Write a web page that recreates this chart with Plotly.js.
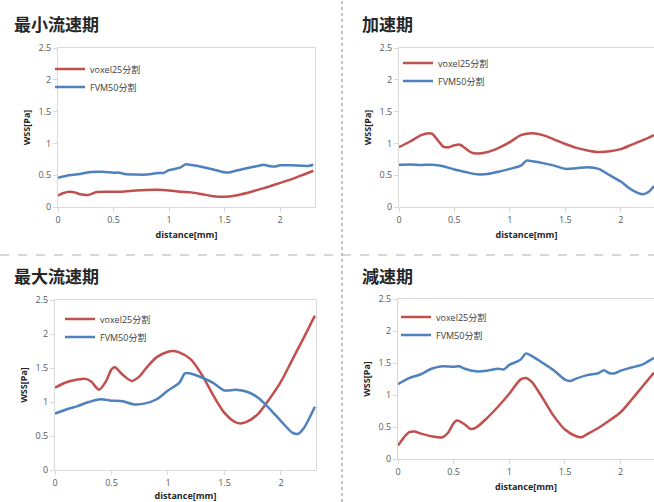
<!DOCTYPE html>
<html><head><meta charset="utf-8">
<script src="https://cdn.plot.ly/plotly-3.0.1.min.js"></script>
<style>html,body{margin:0;padding:0;background:#fff}#chart{width:654px;height:502px}</style>
</head><body><div id="chart"></div>
<script>
const panelTitles = ["最小流速期", "加速期", "最大流速期", "減速期"];
const seriesNames = ["voxel25分割", "FVM50分割"];
const xTickVals = [0, 0.5, 1, 1.5, 2];
const xTickText = ["0", "0.5", "1", "1.5", "2"];
const yTickVals = [0, 0.5, 1, 1.5, 2, 2.5];
const yTickText = ["0", "0.5", "1", "1.5", "2", "2.5"];

// Panel 1: 最小流速期
const p1VoxelX = [0,0.05,0.1,0.15,0.2,0.27,0.35,0.5,0.6,0.7,0.9,1.0,1.1,1.2,1.3,1.4,1.5,1.6,1.7,1.8,1.9,2.0,2.1,2.2,2.3];
const p1VoxelY = [0.18,0.22,0.24,0.23,0.2,0.19,0.235,0.24,0.245,0.26,0.27,0.26,0.24,0.23,0.2,0.17,0.16,0.18,0.22,0.27,0.32,0.38,0.435,0.5,0.57];
const p1FvmX = [0,0.1,0.2,0.3,0.4,0.5,0.55,0.6,0.7,0.8,0.9,0.95,1.0,1.1,1.15,1.2,1.3,1.4,1.5,1.55,1.6,1.7,1.8,1.85,1.9,1.95,2.0,2.1,2.2,2.25,2.3];
const p1FvmY = [0.46,0.5,0.52,0.55,0.555,0.54,0.54,0.52,0.51,0.51,0.535,0.535,0.58,0.62,0.67,0.66,0.63,0.59,0.545,0.545,0.57,0.61,0.645,0.665,0.645,0.635,0.655,0.655,0.65,0.645,0.665];

// Panel 2: 加速期
const p2VoxelX = [0,0.1,0.2,0.27,0.3,0.35,0.4,0.45,0.5,0.55,0.6,0.65,0.7,0.8,0.9,1.0,1.1,1.2,1.3,1.4,1.5,1.6,1.7,1.8,1.9,2.0,2.1,2.2,2.3];
const p2VoxelY = [0.94,1.03,1.13,1.16,1.15,1.05,0.95,0.94,0.97,0.98,0.92,0.86,0.84,0.865,0.93,1.02,1.13,1.16,1.13,1.06,0.99,0.93,0.89,0.865,0.875,0.91,0.98,1.05,1.13];
const p2FvmX = [0,0.1,0.2,0.3,0.4,0.5,0.6,0.7,0.8,0.9,1.0,1.1,1.15,1.2,1.3,1.4,1.5,1.6,1.7,1.8,1.9,2.0,2.1,2.2,2.25,2.3];
const p2FvmY = [0.665,0.67,0.66,0.665,0.64,0.59,0.55,0.515,0.52,0.555,0.6,0.65,0.73,0.72,0.69,0.65,0.6,0.61,0.625,0.6,0.5,0.4,0.27,0.2,0.235,0.33];

// Panel 3: 最大流速期
const p3VoxelX = [0,0.1,0.2,0.27,0.32,0.39,0.45,0.5,0.53,0.6,0.68,0.75,0.8,0.9,1.0,1.05,1.1,1.2,1.3,1.4,1.5,1.6,1.65,1.7,1.8,1.9,2.0,2.1,2.2,2.3];
const p3VoxelY = [1.21,1.29,1.33,1.34,1.3,1.18,1.3,1.48,1.51,1.4,1.31,1.38,1.485,1.66,1.74,1.75,1.73,1.63,1.4,1.1,0.84,0.70,0.686,0.71,0.83,1.05,1.3,1.62,1.94,2.27];
const p3FvmX = [0,0.1,0.2,0.3,0.4,0.5,0.6,0.7,0.8,0.9,1.0,1.1,1.15,1.2,1.3,1.4,1.5,1.6,1.7,1.8,1.9,2.0,2.1,2.15,2.2,2.3];
const p3FvmY = [0.83,0.89,0.94,1.0,1.04,1.02,1.01,0.965,0.98,1.04,1.17,1.28,1.42,1.42,1.36,1.28,1.17,1.18,1.15,1.06,0.9,0.72,0.55,0.53,0.61,0.93];

// Panel 4: 減速期
const p4VoxelX = [0,0.05,0.1,0.15,0.2,0.3,0.4,0.45,0.5,0.53,0.6,0.65,0.7,0.8,0.9,1.0,1.1,1.15,1.2,1.3,1.4,1.5,1.6,1.65,1.7,1.8,1.9,2.0,2.1,2.2,2.3];
const p4VoxelY = [0.21,0.33,0.42,0.43,0.4,0.355,0.34,0.41,0.56,0.6,0.54,0.47,0.49,0.64,0.82,1.02,1.24,1.265,1.21,0.95,0.67,0.46,0.355,0.34,0.39,0.485,0.6,0.73,0.93,1.14,1.35];
const p4FvmX = [0,0.1,0.2,0.3,0.4,0.5,0.55,0.6,0.7,0.8,0.9,0.95,1.0,1.1,1.15,1.2,1.3,1.4,1.5,1.55,1.6,1.7,1.8,1.85,1.9,1.95,2.0,2.1,2.2,2.3];
const p4FvmY = [1.17,1.265,1.32,1.41,1.45,1.44,1.45,1.41,1.37,1.38,1.41,1.4,1.47,1.55,1.65,1.61,1.5,1.385,1.24,1.22,1.255,1.31,1.34,1.385,1.34,1.34,1.38,1.43,1.48,1.58];

const RED = "#C0504D", BLUE = "#4F81BD";
const W = 654, H = 502;
const px = v => v / W, py = v => 1 - v / H;

// dom: [left, right, top, bottom] px; leg: [text x, item1 y, item2 y] px
const panels = [
  {vx: p1VoxelX, vy: p1VoxelY, fx: p1FvmX, fy: p1FvmY, dom: [58, 315, 48, 207], xr: 2.315, title: [12, 24], leg: [90, 69, 87]},
  {vx: p2VoxelX, vy: p2VoxelY, fx: p2FvmX, fy: p2FvmY, dom: [399, 654, 48, 207], xr: 2.3, title: [360, 24], leg: [438, 63, 81]},
  {vx: p3VoxelX, vy: p3VoxelY, fx: p3FvmX, fy: p3FvmY, dom: [55, 316, 300, 470], xr: 2.31, title: [12, 275], leg: [100, 319, 337]},
  {vx: p4VoxelX, vy: p4VoxelY, fx: p4FvmX, fy: p4FvmY, dom: [398, 654, 299, 459], xr: 2.3, title: [360, 275], leg: [436, 317, 335]}
];

const data = [];
const layout = {
  width: W, height: H, margin: {l: 0, r: 0, t: 0, b: 0},
  paper_bgcolor: "#fff", plot_bgcolor: "#fff", showlegend: true,
  font: {family: "'Open Sans', 'Noto Sans CJK JP', sans-serif", color: "#595959", size: 9},
  annotations: [], shapes: []
};

let legIdx = 0;
function legendName() { legIdx++; return legIdx === 1 ? "legend" : "legend" + legIdx; }

panels.forEach((p, i) => {
  const n = i === 0 ? "" : String(i + 1);
  const series = [[p.vx, p.vy, seriesNames[0], RED, p.leg[1]], [p.fx, p.fy, seriesNames[1], BLUE, p.leg[2]]];
  series.forEach(s => {
    const ln = legendName();
    data.push({x: s[0], y: s[1], name: s[2], type: "scatter", mode: "lines",
      line: {color: s[3], width: 2.5, shape: "spline", smoothing: 0.8},
      xaxis: "x" + n, yaxis: "y" + n, legend: ln});
    layout[ln] = {x: px(p.leg[0] - 40), y: py(s[4]), xanchor: "left", yanchor: "middle",
      bgcolor: "rgba(0,0,0,0)", font: {size: 9, color: "#404040", family: "'Open Sans', 'Noto Sans CJK JP', sans-serif"}};
  });
  const axCommon = {showgrid: false, zeroline: false, showline: true, mirror: true,
    linecolor: "#d9d9d9", linewidth: 1, ticks: "outside", ticklen: 4, tickcolor: "#d9d9d9",
    tickfont: {size: 9, color: "#595959", family: "'Open Sans', sans-serif"}, fixedrange: true};
  layout["xaxis" + n] = Object.assign({}, axCommon, {
    domain: [px(p.dom[0]), Math.min(1, px(p.dom[1]))], range: [0, p.xr], anchor: "y" + n,
    tickvals: xTickVals, ticktext: xTickText,
    title: {text: "distance[mm]", font: {size: 9, color: "#262626", weight: "bold"}, standoff: 6}
  });
  layout["yaxis" + n] = Object.assign({}, axCommon, {
    domain: [py(p.dom[3]), py(p.dom[2])], range: [0, 2.5], anchor: "x" + n,
    tickvals: yTickVals, ticktext: yTickText,
    title: {text: "WSS[Pa]", font: {size: 9, color: "#262626", weight: "bold"}, standoff: 6}
  });
  layout.annotations.push({text: panelTitles[i], xref: "paper", yref: "paper",
    x: px(p.title[0]), y: py(p.title[1]), xanchor: "left", yanchor: "middle", showarrow: false,
    font: {family: "'Noto Sans CJK JP', sans-serif", size: 17, color: "#262626", weight: "bold"}});
});

layout.shapes.push({type: "line", xref: "paper", yref: "paper", x0: px(342), x1: px(342), y0: 0, y1: 1,
  line: {color: "#b0b0b0", width: 1.5, dash: "dot"}});
layout.shapes.push({type: "line", xref: "paper", yref: "paper", x0: 0, x1: 1, y0: py(255), y1: py(255),
  line: {color: "#b0b0b0", width: 1, dash: "dash"}});

Plotly.newPlot("chart", data, layout, {staticPlot: true, displayModeBar: false});
</script></body></html>
